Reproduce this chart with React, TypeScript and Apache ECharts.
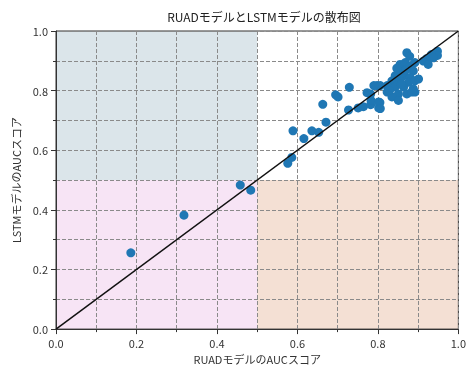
import React, { useEffect, useRef } from "react";
import * as echarts from "echarts";

const titleText = "RUADモデルとLSTMモデルの散布図";
const xName = "RUADモデルのAUCスコア";
const yName = "LSTMモデルのAUCスコア";

const ruadAuc: number[] = [
  0.186, 0.318, 0.458, 0.484,
  0.576, 0.586, 0.589, 0.616, 0.636, 0.653, 0.671, 0.663, 0.695, 0.701,
  0.729, 0.727, 0.751, 0.764, 0.773, 0.782, 0.783, 0.802, 0.805, 0.798,
  0.872, 0.879, 0.948, 0.948, 0.933, 0.921, 0.938,
  0.855, 0.868, 0.880, 0.892, 0.888, 0.851, 0.843, 0.864, 0.880,
  0.835, 0.855, 0.876, 0.892, 0.823, 0.843, 0.864, 0.888, 0.806, 0.790,
  0.782, 0.823, 0.851, 0.872, 0.892, 0.835, 0.851, 0.802, 0.806,
  0.901, 0.884, 0.860, 0.847, 0.913, 0.925, 0.870, 0.829, 0.858
];
const lstmAuc: number[] = [
  0.256, 0.382, 0.483, 0.466,
  0.556, 0.576, 0.665, 0.639, 0.665, 0.660, 0.694, 0.754, 0.786, 0.779,
  0.811, 0.735, 0.742, 0.746, 0.793, 0.753, 0.767, 0.742, 0.760, 0.817,
  0.927, 0.915, 0.932, 0.918, 0.921, 0.907, 0.910,
  0.888, 0.894, 0.883, 0.894, 0.866, 0.866, 0.850, 0.850, 0.844,
  0.833, 0.833, 0.828, 0.833, 0.817, 0.812, 0.812, 0.806, 0.817, 0.817,
  0.789, 0.795, 0.789, 0.789, 0.795, 0.779, 0.767, 0.762, 0.740,
  0.839, 0.795, 0.860, 0.875, 0.899, 0.888, 0.870, 0.800, 0.822
];

const diagonal: number[][] = [[0, 0], [1, 1]];

const regionColors = ["#dbe5ea", "#f7e4f5", "#f4e0d4"];
const regions: number[][][] = [
  [[0, 0.5], [0.5, 1]],
  [[0, 0], [0.5, 0.5]],
  [[0.5, 0], [1, 0.5]]
];

const FONT = "'Noto Sans CJK JP', 'Noto Sans', sans-serif";

export default function App() {
  const ref = useRef<HTMLDivElement>(null);
  useEffect(() => {
    if (!ref.current) return;
    const chart = echarts.init(ref.current, undefined, { renderer: "svg" });
    const points = ruadAuc.map((x, i) => [x, lstmAuc[i]]);
    const axisCommon = {
      type: "value" as const,
      min: 0,
      max: 1,
      interval: 0.2,
      axisLine: { show: true, onZero: false, lineStyle: { color: "#333", width: 1 } },
      axisTick: { show: true, inside: false, length: 5, lineStyle: { color: "#333" } },
      minorTick: { show: true, splitNumber: 2, length: 3, lineStyle: { color: "#333" } },
      axisLabel: {
        color: "#333",
        fontSize: 11,
        fontFamily: FONT,
        formatter: (v: number) => v.toFixed(1)
      },
      splitLine: { show: true, lineStyle: { color: "#8a8a8a", type: [4, 2], width: 1 } },
      minorSplitLine: { show: true, lineStyle: { color: "#8a8a8a", type: [4, 2], width: 1 } },
      nameLocation: "middle" as const,
      nameTextStyle: { color: "#333", fontSize: 11, fontFamily: FONT }
    };
    chart.setOption({
      animation: false,
      title: {
        text: titleText,
        left: 259,
        top: 5,
        textAlign: "center",
        textStyle: { color: "#222", fontSize: 12, fontWeight: "normal", fontFamily: FONT }
      },
      grid: {
        left: 56,
        right: 7,
        top: 31,
        bottom: 34,
        show: true,
        borderColor: "#333",
        borderWidth: 1,
        backgroundColor: "transparent"
      },
      xAxis: { ...axisCommon, name: xName, nameGap: 18 },
      yAxis: { ...axisCommon, name: yName, nameGap: 25 },
      series: [
        {
          type: "scatter",
          data: [],
          markArea: {
            silent: true,
            z: -1,
            data: regions.map((r, i) => [
              { coord: r[0], itemStyle: { color: regionColors[i], opacity: 1 } },
              { coord: r[1] }
            ])
          }
        },
        {
          type: "scatter",
          data: points,
          symbolSize: 9,
          itemStyle: { color: "#1f77b4", opacity: 1 },
          z: 3
        },
        {
          type: "line",
          data: diagonal,
          symbol: "none",
          lineStyle: { color: "#111", width: 1.5 },
          z: 4
        }
      ]
    });
    return () => chart.dispose();
  }, []);
  return (
    <div
      ref={ref}
      style={{ position: "fixed", left: 0, top: 0, width: 469, height: 369 }}
    />
  );
}
